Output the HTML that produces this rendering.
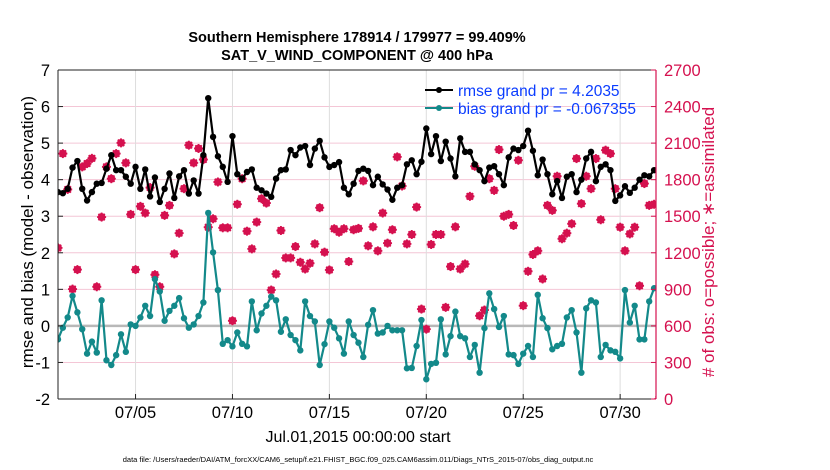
<!DOCTYPE html>
<html><head><meta charset="utf-8"><style>
body{margin:0;background:#fff;}
svg{display:block;font-family:"Liberation Sans",sans-serif;}
</style></head><body>
<svg id="chart" width="830" height="470" viewBox="0 0 830 470" xmlns="http://www.w3.org/2000/svg">
<g id="grid"></g>
<g id="series"></g>
<g id="axes"></g>
<text x="357" y="42" text-anchor="middle" font-size="14.5" font-weight="bold">Southern Hemisphere 178914 / 179977 = 99.409%</text>
<text x="357" y="60" text-anchor="middle" font-size="14.5" font-weight="bold">SAT_V_WIND_COMPONENT @ 400 hPa</text>
<text transform="translate(33,232) rotate(-90)" text-anchor="middle" font-size="17">rmse and bias (model - observation)</text>
<text transform="translate(714,242) rotate(-90)" text-anchor="middle" font-size="17" fill="#d5114f"># of obs: o=possible; ∗=assimilated</text>
<text x="358" y="442" text-anchor="middle" font-size="16">Jul.01,2015 00:00:00 start</text>
<text x="358" y="462" text-anchor="middle" font-size="7.5">data file: /Users/raeder/DAI/ATM_forcXX/CAM6_setup/f.e21.FHIST_BGC.f09_025.CAM6assim.011/Diags_NTrS_2015-07/obs_diag_output.nc</text>
<g>
<line x1="425" y1="90" x2="453" y2="90" stroke="#000" stroke-width="2"/><circle cx="439" cy="90" r="3" fill="#000"/>
<text x="458" y="96" font-size="15.5" fill="#0a3cff">rmse grand pr = 4.2035</text>
<line x1="425" y1="108" x2="453" y2="108" stroke="#13898a" stroke-width="2"/><circle cx="439" cy="108" r="3" fill="#13898a"/>
<text x="458" y="114" font-size="15.5" fill="#0a3cff">bias grand pr = -0.067355</text>
</g>
</svg>
<script>
const rmse=[3.66,3.63,3.75,4.33,4.51,3.75,3.43,3.66,3.89,3.91,4.30,4.67,4.26,4.26,4.08,3.89,4.35,3.75,4.28,3.54,4.06,3.39,3.75,4.17,3.50,4.09,4.26,3.62,3.98,3.62,4.67,6.23,
5.17,4.64,4.35,3.94,5.19,4.15,4.03,4.21,4.28,3.78,3.71,3.62,3.53,4.03,4.26,4.28,4.81,4.67,4.88,4.92,4.40,4.85,5.06,4.61,4.35,4.40,4.48,3.78,3.60,3.89,4.24,
4.30,4.24,3.85,4.08,3.87,3.73,3.45,3.78,3.85,4.42,4.53,4.15,4.49,5.40,4.70,5.19,4.51,5.04,4.58,4.09,5.13,4.76,4.76,4.42,4.26,3.96,4.33,4.37,4.15,3.85,4.61,
4.85,4.81,4.92,5.34,4.79,4.12,4.55,4.15,3.60,3.96,3.50,4.08,4.15,3.66,4.00,4.58,4.76,3.96,4.35,4.42,4.26,3.42,3.57,3.82,3.64,3.78,4.00,4.12,4.09,4.26];
const bias=[-0.37,-0.05,0.23,0.82,0.37,-0.09,-0.76,-0.43,-0.73,0.70,-0.94,-1.07,-0.80,-0.23,-0.71,0.04,0.00,0.23,0.55,0.27,1.28,0.94,0.14,0.41,0.55,0.76,0.21,-0.05,0.04,0.27,0.64,3.09,
2.01,0.98,-0.49,-0.39,-0.56,-0.18,-0.49,-0.56,0.67,-0.12,0.34,0.55,0.80,0.70,-0.16,0.18,-0.25,-0.39,-0.67,0.67,0.27,0.12,-1.07,-0.50,0.12,-0.05,-0.34,-0.76,0.12,-0.25,-0.46,
-0.85,0.03,0.43,-0.21,-0.18,0.00,-0.12,-0.12,-0.12,-1.16,-1.15,-0.55,0.16,-1.46,-1.04,-1.01,0.18,-0.78,-0.28,0.39,-0.28,-0.34,-0.85,-0.52,-1.28,-0.06,0.89,0.46,-0.03,0.27,-0.78,
-0.80,-1.04,-0.76,-0.55,-0.85,0.85,0.21,-0.06,-0.64,-0.55,-0.49,0.23,0.43,-0.18,-1.28,0.48,0.70,0.64,-0.85,-0.52,-0.67,-0.71,-0.89,0.98,0.09,0.55,-0.37,-0.37,0.67,1.03];
const obsCount=[1240,2014,1720,902,1062,1905,1932,1975,921,1493,1905,1808,2014,2102,1938,1515,1062,1581,1526,1735,1020,921,1507,1589,1191,1361,1726,2083,1938,2056,1965,1410,
1479,1781,1405,1405,642,1598,1808,1377,1232,1452,1644,1608,894,1026,1383,1158,1158,1251,1122,1067,1114,1273,1570,1205,1059,1397,1369,1397,1128,1389,1400,
1790,1257,1413,1216,1526,1279,1389,1987,1748,1273,1350,1575,738,573,1268,1350,1350,752,1087,1413,1067,1108,1663,1910,683,730,1808,1712,2047,1500,1515,
1424,1959,766,1048,1186,1216,985,1589,1548,1828,1315,1361,1438,1973,1603,1828,1726,1973,1471,2042,2014,1726,1410,1216,1355,1410,929,1768,1589,1598,0];
const leftTicks=[-2,-1,0,1,2,3,4,5,6,7];
const rightTicks=[0,300,600,900,1200,1500,1800,2100,2400,2700];
const xTickDays=[4,9,14,19,24,29];
const xTickLabels=["07/05","07/10","07/15","07/20","07/25","07/30"];
const stepDays=0.25;

const L=58,R=656,T=70,B=399;
const xS=d=>L+d*(R-L)/30.85;
const yL=v=>T+(7-v)*(B-T)/9;
const yR=v=>B-v*(B-T)/2700;
const NS="http://www.w3.org/2000/svg";
function mk(tag,attrs,parent){const e=document.createElementNS(NS,tag);for(const k in attrs)e.setAttribute(k,attrs[k]);parent.appendChild(e);return e;}
const grid=document.getElementById('grid'),ser=document.getElementById('series'),ax=document.getElementById('axes');
mk('rect',{x:L,y:T,width:R-L,height:B-T,fill:'#fff'},grid);
leftTicks.forEach(v=>{if(v===7||v===-2||v===0)return;const l=mk('line',{x1:L,x2:R,y1:yL(v),y2:yL(v),stroke:'#f4c6d6','stroke-width':1},grid);

});
xTickDays.forEach(d=>{const l=mk('line',{x1:xS(d),x2:xS(d),y1:T,y2:B,stroke:'#dddddd','stroke-width':1},grid);

});
const zl=mk('line',{x1:L,x2:R,y1:yL(0),y2:yL(0),stroke:'#b8b8b8','stroke-width':2.5},grid);


const clip=mk('clipPath',{id:'pc'},ser);mk('rect',{x:L,y:T,width:R-L,height:B-T},clip);
const sg=mk('g',{'clip-path':'url(#pc)'},ser);
obsCount.forEach((v,i)=>{const cx=xS(i*stepDays),cy=yR(v);
const g=mk('g',{stroke:'#d5114f','stroke-width':1.8,fill:'#d5114f'},sg);


mk('circle',{cx:cx,cy:cy,r:3},g);
mk('line',{x1:cx-4.5,x2:cx+4.5,y1:cy,y2:cy},g);
mk('line',{x1:cx,x2:cx,y1:cy-4.5,y2:cy+4.5},g);
mk('line',{x1:cx-3.2,x2:cx+3.2,y1:cy-3.2,y2:cy+3.2},g);
mk('line',{x1:cx-3.2,x2:cx+3.2,y1:cy+3.2,y2:cy-3.2},g);});
function series(arr,color,name){
const p=arr.map((v,i)=>xS(i*stepDays).toFixed(1)+','+yL(v).toFixed(1)).join(' ');
const pl=mk('polyline',{points:p,fill:'none',stroke:color,'stroke-width':2.2,'stroke-linejoin':'round'},sg);


arr.forEach((v,i)=>{const c=mk('circle',{cx:xS(i*stepDays),cy:yL(v),r:3.2,fill:color},sg);

});}
series(bias,'#13898a','bias');
series(rmse,'#000','rmse');
mk('line',{x1:L,x2:R,y1:T,y2:T,stroke:'#222','stroke-width':1},ax);
mk('line',{x1:L,x2:R,y1:B,y2:B,stroke:'#222','stroke-width':1},ax);
mk('line',{x1:L,x2:L,y1:T,y2:B,stroke:'#222','stroke-width':1},ax);
mk('line',{x1:R,x2:R,y1:T,y2:B,stroke:'#d5114f','stroke-width':1.2},ax);
leftTicks.forEach(v=>{mk('line',{x1:L,x2:L+5,y1:yL(v),y2:yL(v),stroke:'#222'},ax);
const t=mk('text',{x:L-8,y:yL(v)+6,'text-anchor':'end','font-size':16.5},ax);t.textContent=v;

});
rightTicks.forEach(v=>{mk('line',{x1:R-5,x2:R,y1:yR(v),y2:yR(v),stroke:'#d5114f'},ax);
const t=mk('text',{x:R+8,y:yR(v)+6,'font-size':16.5,fill:'#d5114f'},ax);t.textContent=v;

});
xTickDays.forEach((d,i)=>{mk('line',{x1:xS(d),x2:xS(d),y1:B,y2:B-5,stroke:'#222'},ax);
const t=mk('text',{x:xS(d),y:B+19,'text-anchor':'middle','font-size':16.5},ax);t.textContent=xTickLabels[i];

});
</script>
</body></html>
